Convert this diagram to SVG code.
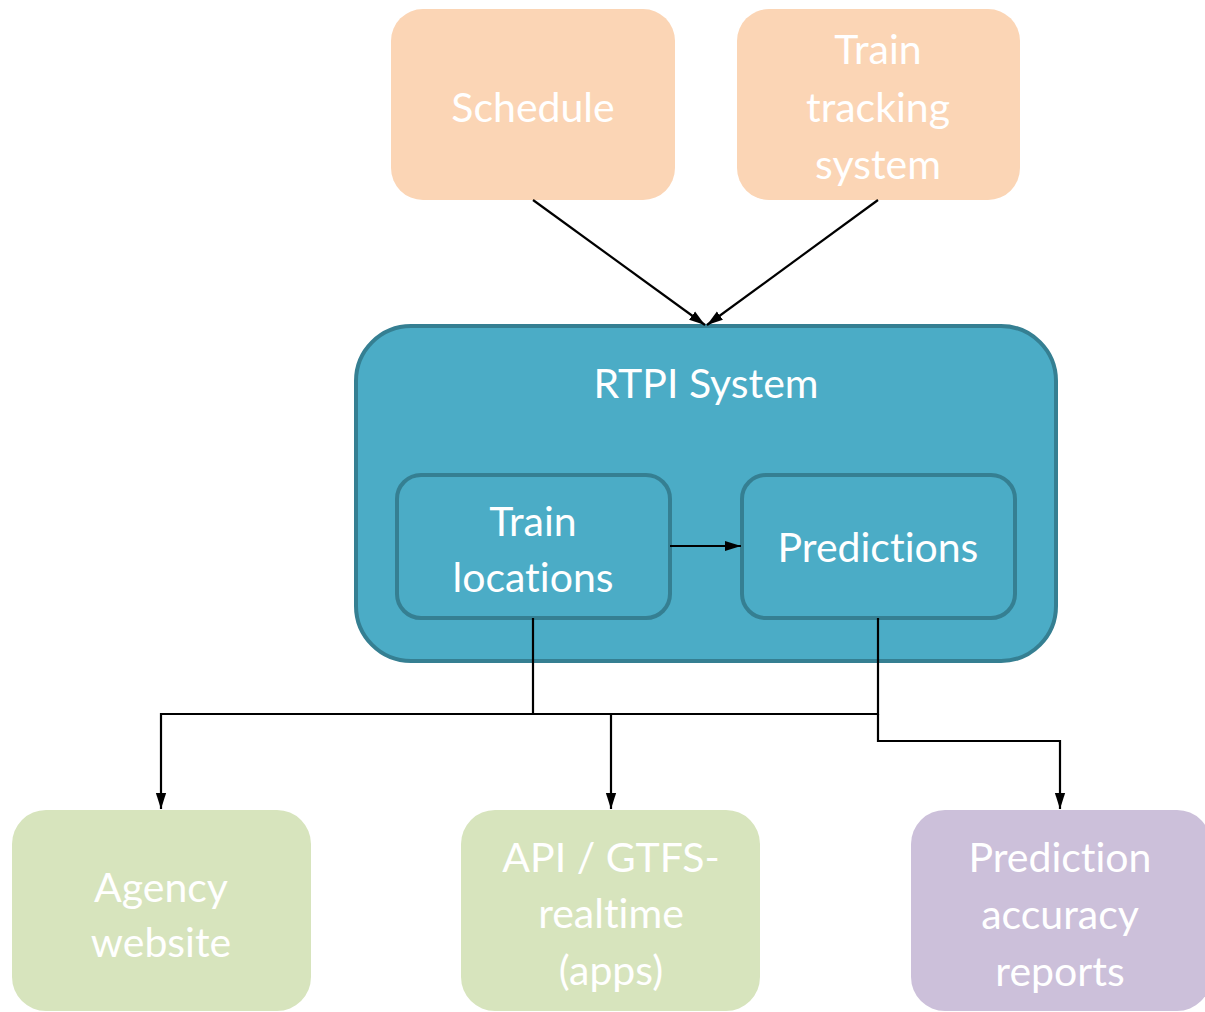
<svg xmlns="http://www.w3.org/2000/svg" width="1205" height="1012" viewBox="0 0 1205 1012">
<defs>
<style>
.t{font-family:Lato,"Open Sans","Liberation Sans",sans-serif;font-size:41px;fill:#fff;text-anchor:middle;dominant-baseline:central;font-variant-ligatures:none;font-feature-settings:"liga" 0}
.src{fill:#FBD5B5}
.out{fill:#D7E4BD}
.rep{fill:#CCC0DA}
.sys{fill:#4BACC6;stroke:#357F92;stroke-width:4}
.sub{fill:#4BACC6;stroke:#357F92;stroke-width:4}
.c{fill:none;stroke:#000;stroke-width:2.2}
</style>
<marker id="ah2" viewBox="0 0 10 10" refX="10" refY="5" markerWidth="16" markerHeight="16" markerUnits="userSpaceOnUse" orient="auto">
<path d="M0,1.8 L10,5 L0,8.2 z" fill="#000"/>
</marker>
</defs>
<rect width="1205" height="1012" fill="#fff"/>
<g id="schedule"><rect class="src" x="391" y="9" width="284" height="191" rx="32"/><text class="t" x="533" y="106">Schedule</text></g>
<g id="tracking"><rect class="src" x="737" y="9" width="283" height="191" rx="32"/><text class="t" x="878" y="48">Train</text><text class="t" x="878" y="106">tracking</text><text class="t" x="878" y="163">system</text></g>
<g id="rtpi"><rect class="sys" x="356" y="326" width="700" height="335" rx="55"/><text class="t" x="706" y="382">RTPI System</text></g>
<g id="trainloc"><rect class="sub" x="397" y="475" width="273" height="143" rx="24"/><text class="t" x="533" y="520">Train</text><text class="t" x="533" y="576">locations</text></g>
<g id="predictions"><rect class="sub" x="742" y="475" width="273" height="143" rx="24"/><text class="t" x="878" y="546">Predictions</text></g>
<g id="agency"><rect class="out" x="12" y="810" width="299" height="201" rx="34"/><text class="t" x="161" y="886">Agency</text><text class="t" x="161" y="941">website</text></g>
<g id="api"><rect class="out" x="461" y="810" width="299" height="201" rx="34"/><text class="t" x="611" y="856">API / GTFS-</text><text class="t" x="611" y="912">realtime</text><text class="t" x="611" y="969">(apps)</text></g>
<g id="reports"><rect class="rep" x="911" y="810" width="300" height="201" rx="34"/><text class="t" x="1060" y="856">Prediction</text><text class="t" x="1060" y="913">accuracy</text><text class="t" x="1060" y="970">reports</text></g>
<g id="connectors">
<line class="c" x1="533" y1="200" x2="705" y2="325" marker-end="url(#ah2)"/>
<line class="c" x1="878" y1="200" x2="707" y2="325" marker-end="url(#ah2)"/>
<line class="c" x1="670" y1="546" x2="741" y2="546" marker-end="url(#ah2)"/>
<polyline class="c" points="533,618 533,714 161,714 161,809" marker-end="url(#ah2)"/>
<polyline class="c" points="878,618 878,714 611,714 611,809" marker-end="url(#ah2)"/>
<polyline class="c" points="878,714 878,741 1060,741 1060,809" marker-end="url(#ah2)"/>
<line class="c" x1="533" y1="714" x2="611" y2="714"/>
</g>
</svg>
